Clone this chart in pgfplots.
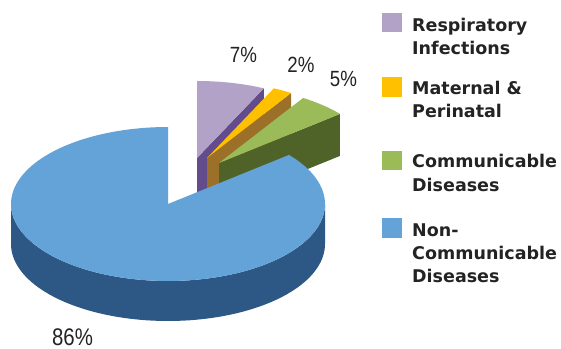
\documentclass[border=0pt]{standalone}
\usepackage{pgfplots}
\pgfplotsset{compat=1.18}
\usepgfplotslibrary{fillbetween}
\usepackage{fontspec}
\setmainfont{DejaVu Sans}
\newfontfamily\pctfont[FakeStretch=0.85]{Liberation Sans}
\definecolor{purT}{RGB}{179,162,199}
\definecolor{purD}{RGB}{98,76,140}
\definecolor{oraT}{RGB}{255,192,0}
\definecolor{oraD}{RGB}{156,112,40}
\definecolor{greT}{RGB}{155,187,89}
\definecolor{greD}{RGB}{79,98,40}
\definecolor{bluT}{RGB}{99,163,216}
\definecolor{bluD}{RGB}{45,88,134}
\definecolor{txt}{RGB}{35,35,35}
% data (percent)
\def\vR{7}\def\vM{2}\def\vC{5}\def\vN{86}
\pgfmathsetmacro\aA{90}
\pgfmathsetmacro\aB{\aA-3.6*\vR}
\pgfmathsetmacro\aC{\aB-3.6*\vM}
\pgfmathsetmacro\aD{\aC-3.6*\vC}
\pgfmathsetmacro\aE{\aD+360-3.6*\vN}
\pgfmathsetmacro\aEE{\aD+360}
\newcommand{\radialface}[4]{%
 \pgfmathsetmacro\rfx{#1+157*cos(#3)}%
 \pgfmathsetmacro\rfy{#2-77*sin(#3)}%
 \pgfmathsetmacro\rfyb{\rfy+42}%
 \pgfmathsetmacro\rfcb{#2+42}%
 \addplot[fill=#4,draw=none] coordinates {(#1,#2) (\rfx,\rfy) (\rfx,\rfyb) (#1,\rfcb)} -- cycle;}
\begin{document}
\begin{tikzpicture}
\begin{axis}[width=561bp,height=349bp,scale only axis,hide axis,
  xmin=0,xmax=561,ymin=0,ymax=349,y dir=reverse,clip=false]
% purple
\radialface{197}{158}{\aB}{purD}
\addplot[fill=purT,draw=none,domain=\aB:\aA,samples=30,variable=\t]
  ({197+157*cos(\t)},{158-77*sin(\t)}) -- (axis cs:197,158) -- cycle;
% orange
\radialface{207}{158}{\aC}{oraD}
\addplot[fill=oraT,draw=none,domain=\aC:\aB,samples=20,variable=\t]
  ({207+157*cos(\t)},{158-77*sin(\t)}) -- (axis cs:207,158) -- cycle;
% green
\radialface{219}{163}{\aD}{greD}
\addplot[fill=greT,draw=none,domain=\aD:\aC,samples=30,variable=\t]
  ({219+157*cos(\t)},{163-77*sin(\t)}) -- (axis cs:219,163) -- cycle;
% blue side
\addplot[name path=bt,draw=none,domain=180:360,samples=80,variable=\t]
  ({168+157*cos(\t)},{204-77*sin(\t)});
\addplot[name path=bb,draw=none,domain=180:360,samples=80,variable=\t]
  ({168+157*cos(\t)},{244-77*sin(\t)});
\addplot[fill=bluD,draw=none] fill between[of=bt and bb];
% blue top
\addplot[fill=bluT,draw=none,domain=\aE:\aEE,samples=150,variable=\t]
  ({168+157*cos(\t)},{204-77*sin(\t)}) -- (axis cs:168,204) -- cycle;
% percent labels
\node[anchor=base,inner sep=0,text=txt,font=\pctfont\fontsize{22bp}{22bp}\selectfont] at (axis cs:243.5,63) {7\%};
\node[anchor=base,inner sep=0,text=txt,font=\pctfont\fontsize{22bp}{22bp}\selectfont] at (axis cs:301,73) {2\%};
\node[anchor=base,inner sep=0,text=txt,font=\pctfont\fontsize{22bp}{22bp}\selectfont] at (axis cs:343.5,87) {5\%};
\node[anchor=base,inner sep=0,text=txt,font=\pctfont\fontsize{24bp}{24bp}\selectfont] at (axis cs:72.5,345) {86\%};
% legend
\addplot[fill=purT,draw=none] coordinates {(382,13) (402,13) (402,32) (382,32)} -- cycle;
\addplot[fill=oraT,draw=none] coordinates {(382,77) (402,77) (402,97) (382,97)} -- cycle;
\addplot[fill=greT,draw=none] coordinates {(382,151) (402,151) (402,170) (382,170)} -- cycle;
\addplot[fill=bluT,draw=none] coordinates {(382,218) (402,218) (402,238) (382,238)} -- cycle;
\begin{scope}[every node/.style={anchor=base west,inner sep=0,text=txt,font=\bfseries\fontsize{17.5bp}{20bp}\selectfont}]
\node at (axis cs:412,32) {Respiratory};
\node at (axis cs:412,55) {Infections};
\node at (axis cs:412,95) {Maternal \&};
\node at (axis cs:412,118) {Perinatal};
\node at (axis cs:412,168) {Communicable};
\node at (axis cs:412,192) {Diseases};
\node at (axis cs:412,237) {Non-};
\node at (axis cs:412,260) {Communicable};
\node at (axis cs:412,283) {Diseases};
\end{scope}
\end{axis}
\pgfresetboundingbox
\path (0,0) rectangle (561bp,349bp);
\end{tikzpicture}
\end{document}
